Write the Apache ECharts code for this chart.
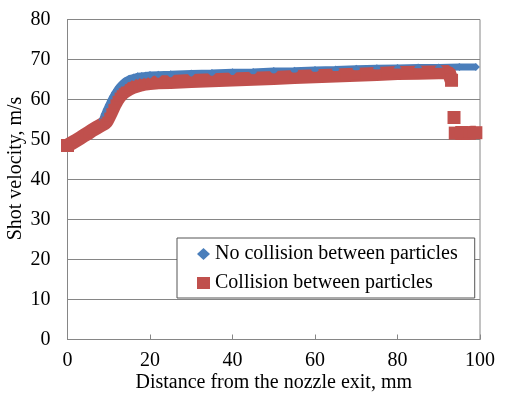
<!DOCTYPE html>
<html>
<head>
<meta charset="utf-8">
<script src="https://cdn.jsdelivr.net/npm/echarts@6/dist/echarts.min.js"></script>
<style>
  html, body { margin: 0; padding: 0; background: #fff; }
  #main { width: 506px; height: 397px; }
</style>
</head>
<body>
<div id="main"></div>
<script>
// distance from nozzle exit (mm) and shot velocity (m/s)
var distNoCol = [0, 1, 2, 3, 4, 5, 6, 7, 8, 8.5, 9, 9.5, 10, 10.5, 11, 11.5, 12, 12.5, 13, 13.5, 14, 15, 16, 17, 18, 19, 20, 22, 25, 30, 35, 40, 45, 50, 55, 60, 65, 70, 75, 80, 85, 90, 95, 99];
var velNoCol = [48.5, 49.2, 49.8, 50.4, 51.0, 51.7, 52.3, 53.0, 53.8, 55.0, 56.3, 57.5, 58.6, 59.7, 60.7, 61.6, 62.4, 63.1, 63.7, 64.2, 64.6, 65.2, 65.5, 65.8, 65.9, 66.0, 66.1, 66.2, 66.3, 66.5, 66.6, 66.8, 66.9, 67.1, 67.2, 67.4, 67.5, 67.7, 67.8, 67.9, 68.0, 68.0, 68.1, 68.1];

var distCol = [0, 1, 2, 3, 4, 5, 6, 7, 8, 9, 9.5, 10, 10.5, 11, 11.5, 12, 12.5, 13, 13.5, 14, 15, 16, 17, 18, 19, 20, 22, 25, 30, 35, 40, 45, 50, 55, 60, 65, 70, 75, 80, 85, 90, 92.4, 93.1, 93.4, 93.7, 93.9, 94.0, 95, 96, 97, 98, 99];
var velCol = [48.5, 49.1, 49.7, 50.3, 51.0, 51.6, 52.3, 52.9, 53.5, 54.1, 54.6, 55.6, 56.7, 57.8, 58.9, 59.8, 60.6, 61.2, 61.7, 62.1, 62.7, 63.2, 63.5, 63.8, 64.0, 64.1, 64.3, 64.4, 64.6, 64.8, 65.0, 65.2, 65.4, 65.6, 65.8, 66.0, 66.2, 66.4, 66.6, 66.7, 66.8, 66.9, 64.8, null, 55.5, null, 51.6, 51.6, 51.6, 51.6, 51.7, 51.7];

var xTicks = [0, 20, 40, 60, 80, 100];
var yTicks = [0, 10, 20, 30, 40, 50, 60, 70, 80];

function pairs(xs, ys) {
  return xs.map(function (x, i) {
    return [x, ys[i] === null ? '-' : ys[i]];
  });
}

// big squares only where a point stands alone or ends a run, small ones inside the band
function redSize(val, params) {
  var i = params.dataIndex;
  var prev = velCol[i - 1], next = velCol[i + 1];
  if (prev === undefined || next === undefined || prev === null || next === null) return 13;
  return 9;
}

var chart = echarts.init(document.getElementById('main'), null, { renderer: 'canvas' });
var font = 'Liberation Serif';
var gray = '#868686';
var fs = 20;

chart.setOption({
  animation: false,
  backgroundColor: '#fff',
  textStyle: { fontFamily: font },
  grid: {
    left: 67.5,
    right: 26,
    top: 19.5,
    bottom: 57.5,
    outerBoundsMode: 'none',
    containLabel: false,
    show: true,
    borderColor: gray,
    borderWidth: 1
  },
  legend: {
    orient: 'vertical',
    left: 177,
    top: 238,
    padding: [6, 17, 5, 20],
    itemGap: 9,
    itemWidth: 13,
    itemHeight: 12,
    backgroundColor: '#fff',
    borderColor: '#555',
    borderWidth: 1,
    borderRadius: 0,
    textStyle: { fontFamily: font, fontSize: fs, color: '#000' },
    data: [
      { name: 'No collision between particles', icon: 'diamond' },
      { name: 'Collision between particles', icon: 'rect' }
    ]
  },
  xAxis: {
    type: 'value',
    min: xTicks[0],
    max: xTicks[xTicks.length - 1],
    interval: 20,
    name: 'Distance from the nozzle exit, mm',
    nameLocation: 'middle',
    nameGap: 33,
    nameMoveOverlap: false,
    nameTextStyle: { fontFamily: font, fontSize: fs, color: '#000' },
    axisLine: { lineStyle: { color: gray } },
    axisTick: { inside: true, length: 5, lineStyle: { color: gray } },
    axisLabel: { fontFamily: font, fontSize: fs, color: '#000', margin: 11 },
    splitLine: { show: false }
  },
  yAxis: {
    type: 'value',
    min: yTicks[0],
    max: yTicks[yTicks.length - 1],
    interval: 10,
    name: 'Shot velocity, m/s',
    nameLocation: 'middle',
    nameGap: 42,
    nameMoveOverlap: false,
    nameTextStyle: { fontFamily: font, fontSize: fs, color: '#000', padding: [0, 0, 0, 22] },
    axisLine: { show: true, lineStyle: { color: gray } },
    axisTick: { show: false },
    axisLabel: { fontFamily: font, fontSize: fs, color: '#000', margin: 17 },
    splitLine: { lineStyle: { color: gray, width: 1 } }
  },
  series: [
    {
      name: 'No collision between particles',
      type: 'line',
      data: pairs(distNoCol, velNoCol),
      symbol: 'diamond',
      symbolSize: 8,
      showAllSymbol: true,
      itemStyle: { color: '#4a7ebb' },
      lineStyle: { color: '#4a7ebb', width: 7 }
    },
    {
      name: 'Collision between particles',
      type: 'line',
      data: pairs(distCol, velCol),
      symbol: 'rect',
      symbolSize: redSize,
      showAllSymbol: true,
      connectNulls: false,
      itemStyle: { color: '#c0504d' },
      lineStyle: { color: '#c0504d', width: 14 }
    }
  ]
});
</script>
</body>
</html>
